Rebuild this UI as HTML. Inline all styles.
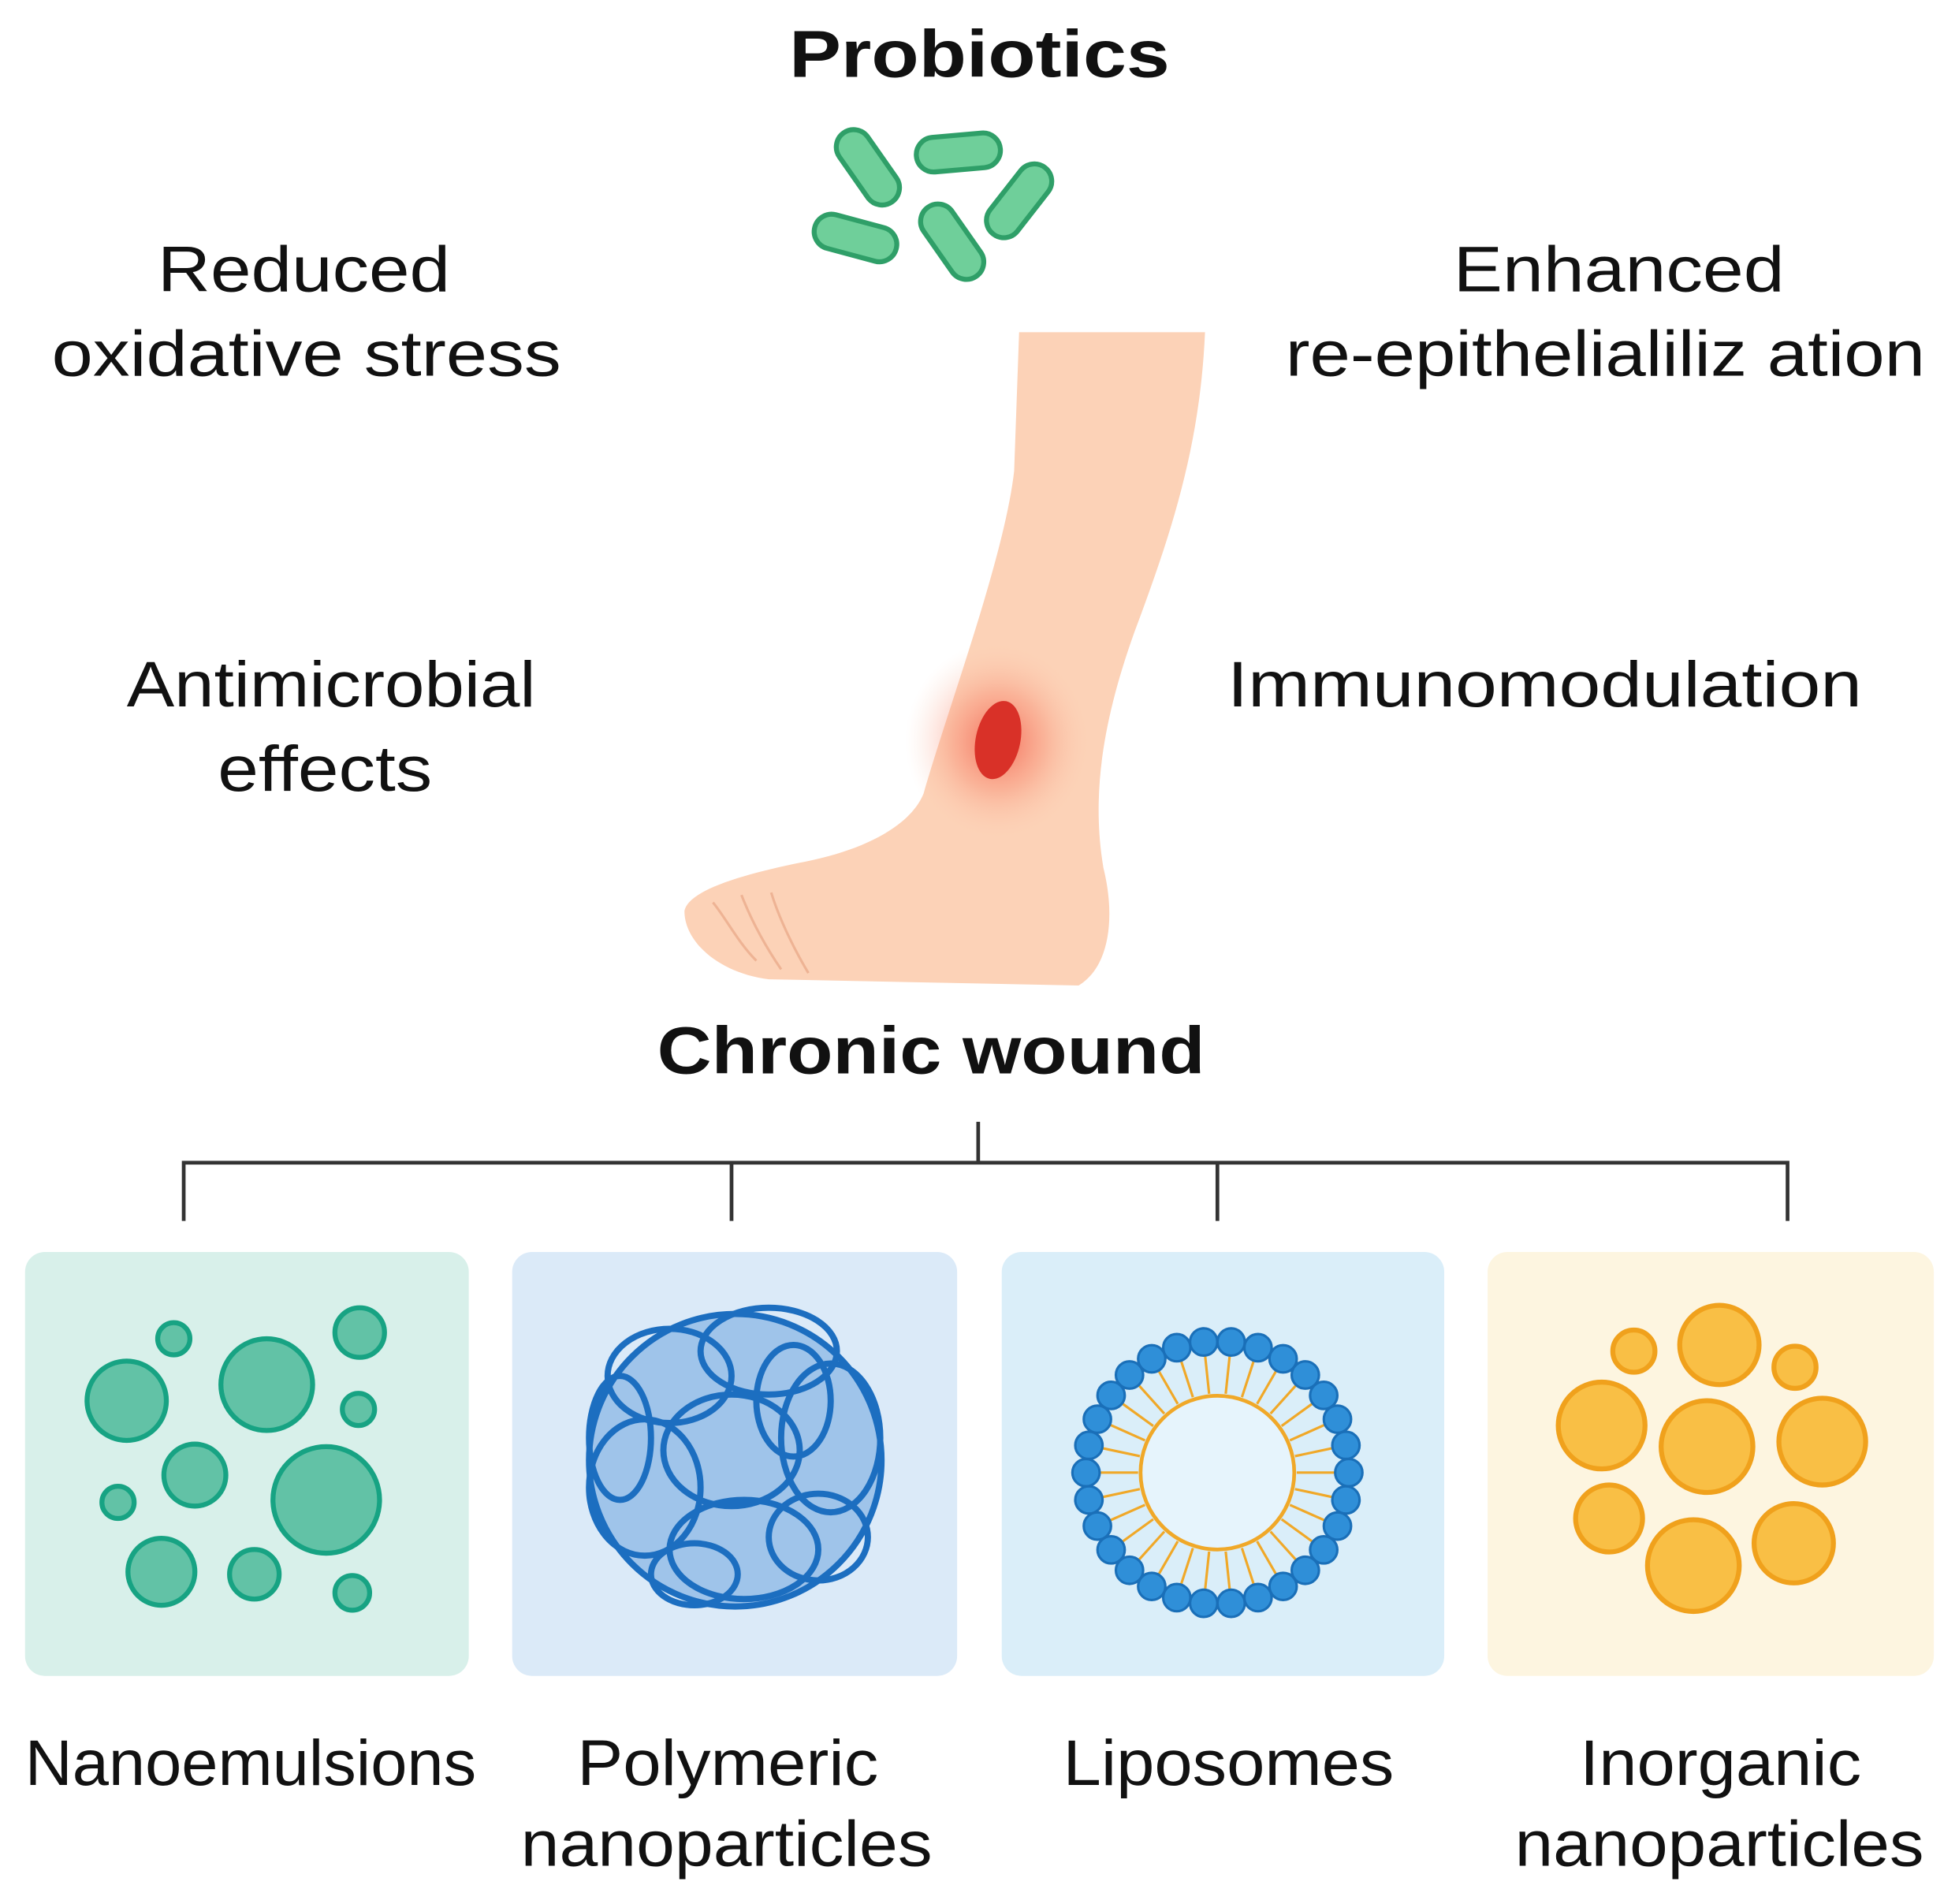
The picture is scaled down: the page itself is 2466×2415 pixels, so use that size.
<!DOCTYPE html>
<html><head><meta charset="utf-8"><style>
html,body{margin:0;padding:0;background:#fff;}
svg{display:block;}
text{font-family:"Liberation Sans",Arial,sans-serif;fill:#111;}
</style></head><body>
<svg id="s" width="2466" height="2415" viewBox="0 0 1568 1536" xmlns="http://www.w3.org/2000/svg">
<defs>
<radialGradient id="glow" cx="50%" cy="50%" r="50%">
<stop offset="0" stop-color="#f04a3a" stop-opacity="0.75"/>
<stop offset="0.5" stop-color="#f77a60" stop-opacity="0.35"/>
<stop offset="1" stop-color="#fbd0b5" stop-opacity="0"/>
</radialGradient>
</defs>
<text x="790" y="62" font-size="54" font-weight="bold" text-anchor="middle" textLength="307" lengthAdjust="spacingAndGlyphs">Probiotics</text>
<g fill="#6fcf9a" stroke="#2f9f68" stroke-width="4">
<rect x="-34" y="-14" width="68" height="28" rx="14" transform="translate(700,135) rotate(55)"/>
<rect x="-34" y="-14" width="68" height="28" rx="14" transform="translate(773,123) rotate(-5)"/>
<rect x="-34" y="-14" width="68" height="28" rx="14" transform="translate(822,162) rotate(-52)"/>
<rect x="-34" y="-14" width="68" height="28" rx="14" transform="translate(690,192) rotate(15)"/>
<rect x="-34" y="-14" width="68" height="28" rx="14" transform="translate(768,195) rotate(55)"/>
</g>
<g font-size="52" text-anchor="middle" lengthAdjust="spacingAndGlyphs">
<text x="245" y="235" textLength="236" lengthAdjust="spacingAndGlyphs">Reduced</text>
<text x="247" y="303" textLength="411" lengthAdjust="spacingAndGlyphs">oxidative stress</text>
<text x="1306" y="235" textLength="267" lengthAdjust="spacingAndGlyphs">Enhanced</text>
<text x="1295" y="303" textLength="516" lengthAdjust="spacingAndGlyphs">re-epithelialiliz ation</text>
<text x="267" y="570" textLength="330" lengthAdjust="spacingAndGlyphs">Antimicrobial</text>
<text x="262" y="638" textLength="173" lengthAdjust="spacingAndGlyphs">effects</text>
<text x="1246" y="570" textLength="512" lengthAdjust="spacingAndGlyphs">Immunomodulation</text>
</g>
<path d="M822,268 L972,268 C968,360 945,430 915,510 C890,580 880,640 890,700 C900,740 895,780 870,795 L620,790 C580,785 552,760 552,735 C555,718 600,705 650,695 C700,685 735,665 745,640 C765,570 810,450 818,380 Z" fill="#fcd2b7"/>
<g fill="none" stroke="#eeb394" stroke-width="2">
<path d="M575,728 C585,740 595,760 610,775"/>
<path d="M598,722 C605,740 615,760 630,782"/>
<path d="M622,720 C628,740 640,765 652,785"/>
</g>
<ellipse cx="805" cy="598" rx="75" ry="80" fill="url(#glow)"/>
<ellipse cx="805" cy="597" rx="18" ry="32" transform="rotate(12 805 597)" fill="#d93128"/>
<text x="751" y="866" font-size="54" font-weight="bold" text-anchor="middle" textLength="442" lengthAdjust="spacingAndGlyphs">Chronic wound</text>
<g stroke="#333" stroke-width="3" fill="none">
<path d="M789,905 V938 M148,985 V938 H1442 V985 M590,938 V985 M982,938 V985"/>
</g>
<rect x="20" y="1010" width="358" height="342" rx="16" fill="#d8f0ea"/>
<rect x="413" y="1010" width="359" height="342" rx="16" fill="#dbeaf8"/>
<rect x="808" y="1010" width="357" height="342" rx="16" fill="#daeef9"/>
<rect x="1200" y="1010" width="360" height="342" rx="16" fill="#fdf5e0"/>
<g fill="#62c2a6" stroke="#17a383" stroke-width="4">
<circle cx="140" cy="1080" r="13"/><circle cx="290" cy="1075" r="20"/><circle cx="102" cy="1130" r="32"/>
<circle cx="215" cy="1117" r="37"/><circle cx="289" cy="1137" r="13"/><circle cx="157" cy="1190" r="25"/>
<circle cx="263" cy="1210" r="43"/><circle cx="95" cy="1212" r="13"/><circle cx="130" cy="1268" r="27"/>
<circle cx="205" cy="1270" r="20"/><circle cx="284" cy="1285" r="14"/>
</g>
<circle cx="593" cy="1178" r="120" fill="#9fc4ea"/>
<g fill="none" stroke="#1c6ec0" stroke-width="5">
<ellipse cx="540" cy="1110" rx="50" ry="38"/><ellipse cx="620" cy="1090" rx="55" ry="35"/>
<ellipse cx="670" cy="1160" rx="40" ry="60"/><ellipse cx="520" cy="1200" rx="45" ry="55"/>
<ellipse cx="600" cy="1250" rx="60" ry="40"/><ellipse cx="590" cy="1170" rx="55" ry="45"/>
<ellipse cx="660" cy="1240" rx="40" ry="35"/><ellipse cx="500" cy="1160" rx="25" ry="50"/>
<ellipse cx="560" cy="1270" rx="35" ry="25"/><ellipse cx="640" cy="1130" rx="30" ry="45"/>
<circle cx="593" cy="1178" r="118"/>
</g>
<circle cx="982" cy="1188" r="62" fill="#e6f4fc" stroke="#f0a828" stroke-width="3"/>
<g id="lip"></g>
<g fill="#f9bf45" stroke="#f0a11c" stroke-width="4">
<circle cx="1318" cy="1090" r="17"/><circle cx="1387" cy="1085" r="32"/><circle cx="1448" cy="1103" r="17"/>
<circle cx="1292" cy="1150" r="35"/><circle cx="1377" cy="1167" r="37"/><circle cx="1470" cy="1163" r="35"/>
<circle cx="1298" cy="1225" r="27"/><circle cx="1366" cy="1263" r="37"/><circle cx="1447" cy="1245" r="32"/>
</g>
<g font-size="52" text-anchor="middle">
<text x="202" y="1440" textLength="364" lengthAdjust="spacingAndGlyphs">Nanoemulsions</text>
<text x="587" y="1440" textLength="243" lengthAdjust="spacingAndGlyphs">Polymeric</text>
<text x="586" y="1505" textLength="332" lengthAdjust="spacingAndGlyphs">nanoparticles</text>
<text x="991" y="1440" textLength="267" lengthAdjust="spacingAndGlyphs">Liposomes</text>
<text x="1388" y="1440" textLength="227" lengthAdjust="spacingAndGlyphs">Inorganic</text>
<text x="1387" y="1505" textLength="330" lengthAdjust="spacingAndGlyphs">nanoparticles</text>
</g>
</svg>
<script>
var g=document.getElementById('lip'),cx=982,cy=1188,n=30,h='';
for(var i=0;i<n;i++){var a=i*2*Math.PI/n,c=Math.cos(a),s=Math.sin(a);
h+='<line x1="'+(cx+64*c)+'" y1="'+(cy+64*s)+'" x2="'+(cx+95*c)+'" y2="'+(cy+95*s)+'" stroke="#f0a828" stroke-width="2"/>';}
for(var i=0;i<n;i++){var a=i*2*Math.PI/n,c=Math.cos(a),s=Math.sin(a);
h+='<circle cx="'+(cx+106*c)+'" cy="'+(cy+106*s)+'" r="11" fill="#2f8fd8" stroke="#1a6fb8" stroke-width="2"/>';}
g.innerHTML=h;
</script>
</body></html>
